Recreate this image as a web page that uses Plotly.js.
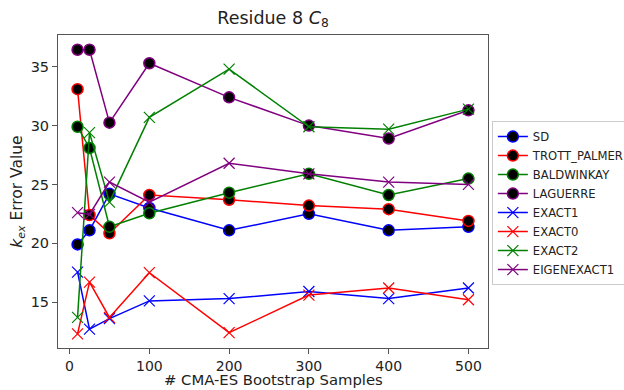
<!DOCTYPE html>
<html>
<head>
<meta charset="utf-8">
<script src="https://cdn.plot.ly/plotly-3.0.1.min.js"></script>
<style>html,body{margin:0;padding:0;background:#fff;overflow:hidden;}#chart{width:660px;height:390px;}</style>
</head>
<body>
<div id="chart"></div>
<script>
const samples = [10, 25, 50, 100, 200, 300, 400, 500];
const sd          = [19.9, 21.1, 24.2, 23.0, 21.1, 22.5, 21.1, 21.4];
const trottPalmer = [33.1, 22.4, 20.85, 24.1, 23.7, 23.2, 22.9, 21.9];
const baldwinKay  = [29.9, 28.1, 21.4, 22.55, 24.3, 25.9, 24.1, 25.5];
const laguerre    = [36.45, 36.45, 30.25, 35.3, 32.4, 30.0, 28.9, 31.3];
const exact1      = [17.55, 12.7, 13.6, 15.1, 15.3, 15.9, 15.3, 16.2];
const exact0      = [12.3, 16.7, 13.7, 17.5, 12.4, 15.6, 16.2, 15.2];
const exact2      = [13.7, 29.4, 23.5, 30.7, 34.8, 29.9, 29.7, 31.4];
const eigenExact1 = [22.6, 22.45, 25.2, 23.5, 26.8, 25.9, 25.2, 25.0];

const xTicks = [0, 100, 200, 300, 400, 500];
const yTicks = [15, 20, 25, 30, 35];
const xTitle = '# CMA-ES Bootstrap Samples';

function circ(name, y, color) {
  return {x: samples, y: y, name: name, type: 'scatter', mode: 'lines+markers',
    line: {color: color, width: 1.5},
    marker: {symbol: 'circle', size: 11, color: 'black', line: {color: color, width: 1.5}}};
}
function cross(name, y, color) {
  return {x: samples, y: y, name: name, type: 'scatter', mode: 'lines+markers',
    line: {color: color, width: 1.5},
    marker: {symbol: 'x-thin-open', size: 11, color: color, line: {color: color, width: 1.2}}};
}

const data = [
  circ('SD', sd, '#0000ff'),
  circ('TROTT_PALMER', trottPalmer, '#ff0000'),
  circ('BALDWINKAY', baldwinKay, '#008000'),
  circ('LAGUERRE', laguerre, '#800080'),
  cross('EXACT1', exact1, '#0000ff'),
  cross('EXACT0', exact0, '#ff0000'),
  cross('EXACT2', exact2, '#008000'),
  cross('EIGENEXACT1', eigenExact1, '#800080')
];

const layout = {
  width: 660, height: 390,
  margin: {l: 58, r: 172, t: 35, b: 42},
  paper_bgcolor: '#fff', plot_bgcolor: '#fff',
  font: {family: 'DejaVu Sans', size: 14, color: '#222'},
  title: {text: 'Residue 8 <i>C</i><sub>8</sub>', font: {size: 17.5, color: '#222'}, x: 273 / 660, xanchor: 'center', y: 0.955, yanchor: 'middle'},
  xaxis: {
    range: [-14.5, 524.5], tickvals: xTicks, ticktext: xTicks.map(String),
    showgrid: false, zeroline: false, showline: true, mirror: true, linecolor: '#555', linewidth: 1,
    ticks: 'outside', ticklen: 5, tickcolor: '#555', tickfont: {size: 14}
  },
  yaxis: {
    range: [11.1, 37.7], tickvals: yTicks, ticktext: yTicks.map(String),
    showgrid: false, zeroline: false, showline: true, mirror: true, linecolor: '#555', linewidth: 1,
    ticks: 'outside', ticklen: 5, tickcolor: '#555', tickfont: {size: 14.5},
    title: {text: '<i>k</i><sub><i>ex</i></sub> Error Value', font: {size: 15.5}, standoff: 4}
  },
  annotations: [{
    text: xTitle, xref: 'paper', yref: 'paper', x: 0.5, y: -0.101,
    xanchor: 'center', yanchor: 'middle', showarrow: false, font: {size: 14.8, color: '#222'}
  }],
  legend: {x: 1.009, xanchor: 'left', y: 0.725, yanchor: 'top', bordercolor: '#ccc', borderwidth: 1,
    font: {size: 11.6}, tracegroupgap: 0, itemwidth: 30},
  showlegend: true
};

Plotly.newPlot('chart', data, layout, {displayModeBar: false, staticPlot: true});
</script>
</body>
</html>
